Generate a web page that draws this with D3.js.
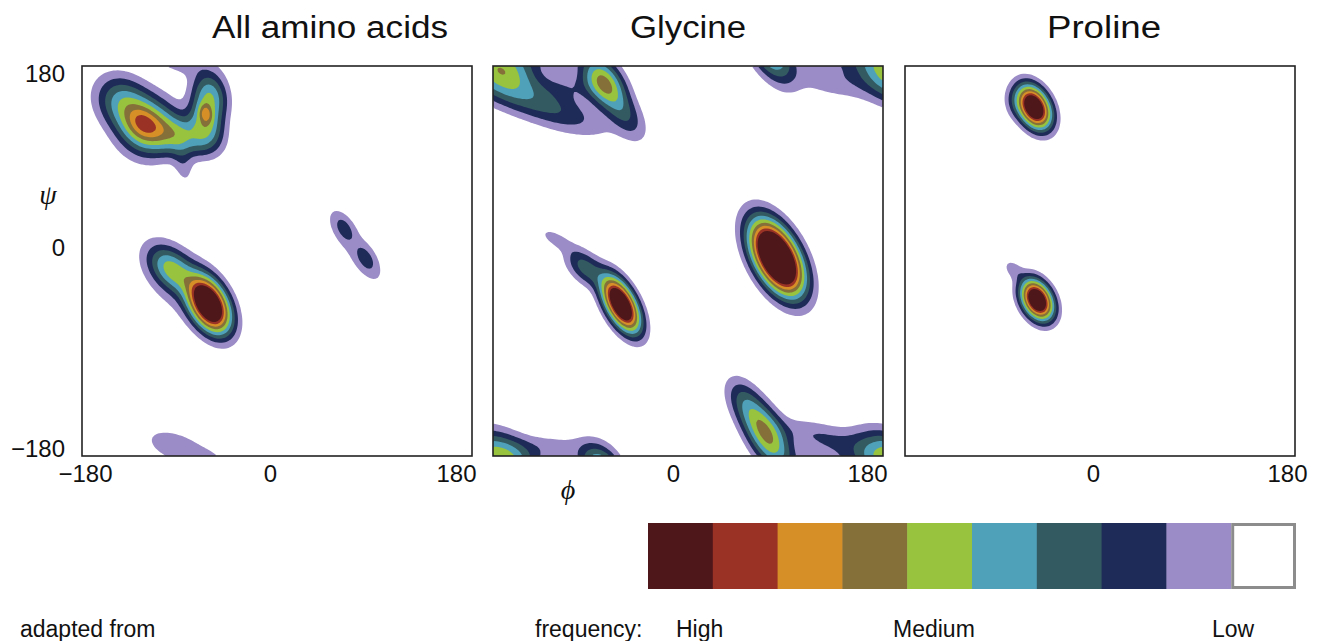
<!DOCTYPE html>
<html>
<head>
<meta charset="utf-8">
<script src="https://cdn.jsdelivr.net/npm/d3@7"></script>
<style>
  body { margin: 0; background: #fff; }
  svg text { font-family: "Liberation Sans", Arial, Helvetica, sans-serif; fill: #111; }
</style>
</head>
<body>
<div id="chart"></div>
<script>
// panel titles and axis ticks
const panelTitles = ["All amino acids", "Glycine", "Proline"];
const angleTicks = [-180, 0, 180];

// density peaks: [phi, psi, spread along, spread across, tilt (deg), height]
const allAminoPeaks = [
  [-140, 144, 18, 14, -45, 0.28],
  [-118, 123, 17, 17, -45, 0.3],
  [-92, 116, 20, 11, -15, 0.26],
  [-124, 127, 12, 10, -45, 0.19],
  [-62, 152, 14, 10, -80, 0.28],
  [-66, 126, 14, 10, -80, 0.28],
  [-66, 136, 6, 4, -80, 0.22],
  [-87, 92, 16, 6, -80, 0.06],
  [-92, 188, 22, 10, -20, 0.075],
  [-63, -40, 17, 10, -62, 1.1],
  [-97, -8, 16, 10, -45, 0.3],
  [-90, -20, 30, 18, -50, 0.06],
  [62, 30, 9, 5, -60, 0.09],
  [82, 2, 9, 5, -60, 0.09],
  [73, 12, 38, 11, -55, 0.05]
];
const glycinePeaks = [
  [-62, -40, 17, 8, -62, 1.05],
  [-95, -6, 14, 8, -45, 0.18],
  [-122, 20, 12, 5, -30, 0.06],
  [82, 3, 22, 11.5, -62, 1.4],
  [-78, 165, 16, 10, -56, 0.4],
  [-60, 138, 18, 9, -56, 0.15],
  [72, -160, 22, 10, -60, 0.42],
  [52, -130, 16, 9, -60, 0.12],
  [-172, 176, 22, 14, -30, 0.36],
  [-130, 142, 35, 11, -20, 0.15],
  [-112, 160, 22, 10, 0, 0.07],
  [125, -163, 30, 9, -15, 0.09],
  [135, 168, 30, 12, -10, 0.07],
  [-130, -172, 30, 8, 0, 0.06]
];
const prolinePeaks = [
  [-61, 142, 13, 8.5, -62, 1.0],
  [-80, 145, 10, 6, -80, 0.05],
  [-58, -36, 12, 8, -62, 1.0],
  [-80, -8, 8, 5, -45, 0.06]
];

// contour levels, low to high, and their fills
const levels = [0.04, 0.09, 0.15, 0.22, 0.3, 0.39, 0.48, 0.57, 0.66];
const levelColors = ["#9b8bc6", "#1e2a58", "#335a61", "#4fa0b9", "#97c33e", "#86703a", "#d68e27", "#9a3326", "#4e1719"];
const legendLabels = ["High", "Medium", "Low"];

const W = 1318, H = 641;
const svg = d3.select("#chart").append("svg").attr("width", W).attr("height", H);

const panelLeft = [82, 493, 905];
const panelTop = 66, size = 390;
const step = 2, n = 360 / step;
const gridToAngle = d3.scaleLinear().domain([0, n]).range([-180, 180]);

function density(peaks, phi, psi) {
  let v = 0;
  for (const [p0, q0, sa, sb, tilt, h] of peaks) {
    const c = Math.cos(tilt * Math.PI / 180), s = Math.sin(tilt * Math.PI / 180);
    for (const ox of [-360, 0, 360]) {
      for (const oy of [-360, 0, 360]) {
        const dx = phi - p0 + ox, dy = psi - q0 + oy;
        const u = dx * c + dy * s, w = -dx * s + dy * c;
        v += h * Math.exp(-(u * u / (2 * sa * sa) + w * w / (2 * sb * sb)));
      }
    }
  }
  return v;
}

const panels = [allAminoPeaks, glycinePeaks, prolinePeaks];
const xTickShift = [[3, -7, -16], [0, -15, -16], [0, -7, -8]];

panels.forEach((peaks, k) => {
  const x = d3.scaleLinear().domain([-180, 180]).range([panelLeft[k], panelLeft[k] + size]);
  const y = d3.scaleLinear().domain([-180, 180]).range([panelTop + size, panelTop]);

  const values = new Float64Array(n * n);
  for (let j = 0; j < n; j++) {
    for (let i = 0; i < n; i++) {
      values[i + j * n] = density(peaks, gridToAngle(i + 0.5), gridToAngle(j + 0.5));
    }
  }
  const contours = d3.contours().size([n, n]).thresholds(levels)(values);
  const path = d3.geoPath(d3.geoTransform({
    point: function (gx, gy) { this.stream.point(x(gridToAngle(gx)), y(gridToAngle(gy))); }
  }));

  svg.append("clipPath").attr("id", "clip" + k)
    .append("rect").attr("x", x(-180)).attr("y", y(180)).attr("width", size).attr("height", size);

  svg.append("g").attr("clip-path", `url(#clip${k})`)
    .selectAll("path")
    .data(contours)
    .join("path")
    .attr("d", path)
    .attr("fill", (d, i) => levelColors[i]);

  svg.append("rect")
    .attr("x", x(-180)).attr("y", y(180))
    .attr("width", size).attr("height", size)
    .attr("fill", "none").attr("stroke", "#222").attr("stroke-width", 1.6);

  const xAxis = svg.append("g")
    .attr("transform", `translate(0,${panelTop + size})`)
    .call(d3.axisBottom(x).tickValues(k === 0 ? angleTicks : angleTicks.slice(1)).tickSize(0).tickFormat(d => d < 0 ? "\u2212" + (-d) : d));
  xAxis.select(".domain").remove();
  xAxis.selectAll("text")
    .attr("font-size", 24).attr("fill", "#111")
    .attr("y", 9)
    .attr("dx", d => xTickShift[k][angleTicks.indexOf(d)]);

  if (k === 0) {
    const yAxis = svg.append("g")
      .attr("transform", `translate(${panelLeft[0]},0)`)
      .call(d3.axisLeft(y).tickValues(angleTicks).tickSize(0).tickFormat(d => d < 0 ? "\u2212" + (-d) : d));
    yAxis.select(".domain").remove();
    const yShift = { "-180": -8, "0": -14, "180": 7 };
    yAxis.selectAll("text")
      .attr("font-size", 24).attr("fill", "#111")
      .attr("x", -17)
      .attr("dy", d => (yShift[d] + 8) + "px");
  }
});

// titles
const titleStart = [212, 630, 1047];
const titleWidth = [236, 116, 114];
svg.selectAll(".title")
  .data(panelTitles)
  .join("text")
  .attr("class", "title")
  .attr("x", (d, i) => titleStart[i])
  .attr("y", 38)
  .attr("font-size", 31)
  .attr("textLength", (d, i) => titleWidth[i])
  .attr("lengthAdjust", "spacingAndGlyphs")
  .text(d => d);

// axis symbols
svg.append("text")
  .attr("x", 48).attr("y", 204)
  .attr("text-anchor", "middle")
  .style("font-family", "'Liberation Serif', 'DejaVu Serif', serif")
  .style("font-style", "italic")
  .attr("font-size", 28)
  .text("\u03C8");
svg.append("text")
  .attr("x", 568).attr("y", 499)
  .attr("text-anchor", "middle")
  .style("font-family", "'Liberation Serif', 'DejaVu Serif', serif")
  .style("font-style", "italic")
  .attr("font-size", 28)
  .text("\u03D5");

// legend bar
const legendColors = levelColors.slice().reverse().concat(["#ffffff"]);
const lx = d3.scaleBand().domain(d3.range(legendColors.length)).range([648, 1296]);
const legendTop = 523, legendH = 66;
svg.selectAll(".cell")
  .data(legendColors)
  .join("rect")
  .attr("class", "cell")
  .attr("x", (d, i) => lx(i))
  .attr("y", legendTop)
  .attr("width", lx.bandwidth() + 0.5)
  .attr("height", legendH)
  .attr("fill", d => d);
svg.append("rect")
  .attr("x", lx(legendColors.length - 1) + 1.5)
  .attr("y", legendTop + 1.5)
  .attr("width", lx.bandwidth() - 3)
  .attr("height", legendH - 3)
  .attr("fill", "none")
  .attr("stroke", "#8c8c8c")
  .attr("stroke-width", 3);

const legendTextX = [676, 893, 1212];
svg.selectAll(".lab")
  .data(legendLabels)
  .join("text")
  .attr("class", "lab")
  .attr("x", (d, i) => legendTextX[i])
  .attr("y", 637)
  .attr("font-size", 23)
  .text(d => d);
svg.append("text").attr("x", 535).attr("y", 637).attr("font-size", 23).text("frequency:");
svg.append("text").attr("x", 20).attr("y", 637).attr("font-size", 23).text("adapted from");
</script>
</body>
</html>
